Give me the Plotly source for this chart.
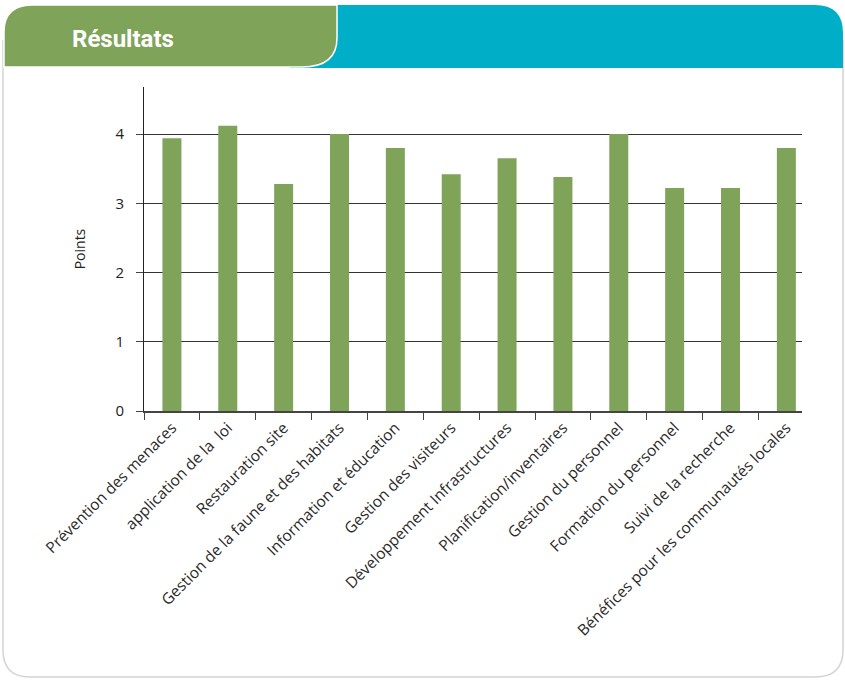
import plotly.graph_objects as go

categories = [
    "Prévention des menaces",
    "application de la  loi",
    "Restauration site",
    "Gestion de la faune et des habitats",
    "Information et éducation",
    "Gestion des visiteurs",
    "Développement Infrastructures",
    "Planification/inventaires",
    "Gestion du personnel",
    "Formation du personnel",
    "Suivi de la recherche",
    "Bénéfices pour les communautés locales",
]
points = [3.94, 4.12, 3.28, 4.0, 3.80, 3.42, 3.65, 3.38, 4.0, 3.22, 3.22, 3.80]
y_ticks = [0, 1, 2, 3, 4]
header_title = "Résultats"

W, H = 845, 681
ML, MR, MT, MB = 144, 43, 87, 270
PW = W - ML - MR
PH = H - MT - MB

def px(x):
    return (x - ML) / PW

def py(y):
    return (H - MB - y) / PH

def path(cmds):
    out = []
    for c in cmds:
        if isinstance(c, str):
            out.append(c)
        else:
            out.append(f"{px(c[0]):.5f},{py(c[1]):.5f}")
    return " ".join(out)

GREEN = "#80A35A"
TEAL = "#00AFC7"
FONT = "Open Sans, Noto Sans, sans-serif"

fig = go.Figure()
fig.add_trace(go.Bar(
    x=categories, y=points, marker=dict(color=GREEN, line=dict(width=0)),
    width=0.34, showlegend=False,
))

shapes = []
# card border
shapes.append(dict(type="path", xref="paper", yref="paper",
    path=path(["M", (3, 40), "L", (3, 650), "Q", (3, 677), (30, 677), "L", (815, 677),
               "Q", (843, 677), (843, 650), "L", (843, 40)]),
    line=dict(color="#d4d4d4", width=1.5), layer="below"))
# teal band
shapes.append(dict(type="path", xref="paper", yref="paper",
    path=path(["M", (290, 5), "L", (815, 5), "Q", (843, 5), (843, 33), "L", (843, 68),
               "L", (290, 68), "Z"]),
    fillcolor=TEAL, line=dict(width=0), layer="below"))
# green tab
shapes.append(dict(type="path", xref="paper", yref="paper",
    path=path(["M", (4, 67), "L", (4, 32), "Q", (4, 5), (32, 5), "L", (337, 5),
               "L", (337, 38), "Q", (337, 67), (302, 67), "Z"]),
    fillcolor=GREEN, line=dict(color="white", width=1.5), layer="below"))

fig.update_layout(
    width=W, height=H,
    margin=dict(l=ML, r=MR, t=MT, b=MB),
    paper_bgcolor="white", plot_bgcolor="white",
    font=dict(family=FONT, color="#222222", size=14),
    bargap=0.66,
    shapes=shapes,
    annotations=[dict(text=f"<b>{header_title}</b>", xref="paper", yref="paper",
                      x=px(70), y=py(39), xanchor="left", yanchor="middle",
                      showarrow=False,
                      font=dict(family="Liberation Sans Narrow, Roboto, sans-serif",
                                size=24, color="white"))],
    xaxis=dict(
        range=[-0.5, 11.28], showline=True, linecolor="#444444", linewidth=1.5,
        ticks="outside", tickson="boundaries", ticklen=7, tickcolor="#444444",
        tickangle=-45, tickfont=dict(size=15.5, color="#2a2a2a"), showgrid=False,
    ),
    yaxis=dict(
        range=[0, 4.68], tickvals=y_ticks, showline=True, linecolor="#222222",
        linewidth=1, ticks="outside", ticklen=7, tickcolor="#444444",
        showgrid=True, gridcolor="#333333", gridwidth=1, zeroline=False,
        tickfont=dict(size=15), ticklabelstandoff=9,
        title=dict(text="Points", font=dict(size=14), standoff=26),
    ),
)

fig.write_html("out.html", config={"displayModeBar": False},
               post_script="document.body.style.margin='0';")
